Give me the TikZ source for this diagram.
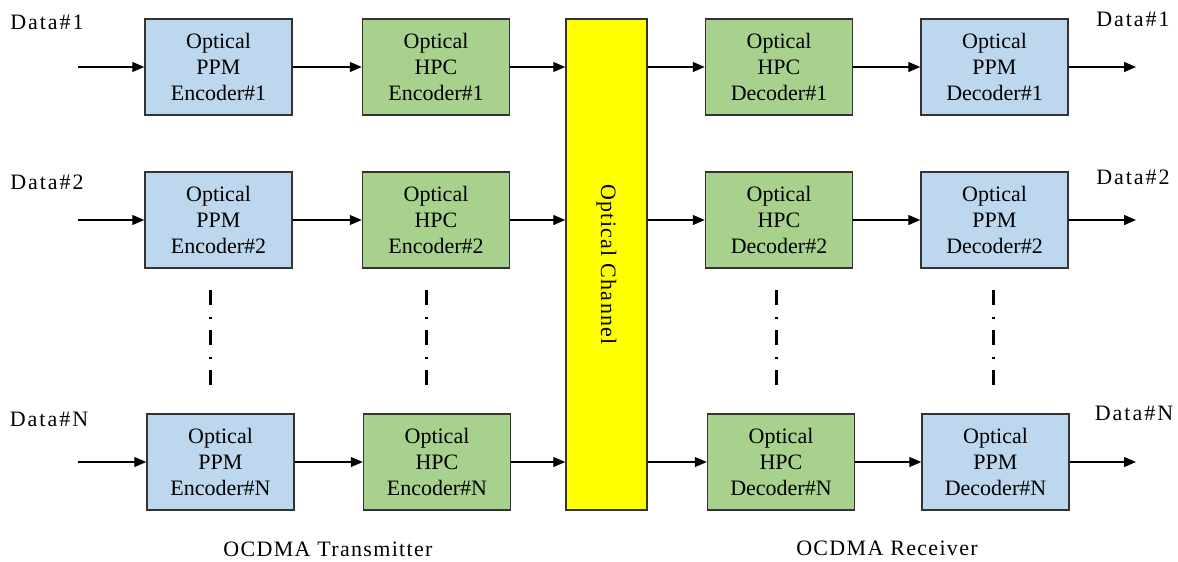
\documentclass[tikz,border=0pt]{standalone}
\usepackage{fontspec}
\setmainfont{Liberation Serif}
\newfontfamily\spaced[LetterSpace=6]{Liberation Serif}
\newfontfamily\spacedd[LetterSpace=9]{Liberation Serif}
\usetikzlibrary{arrows.meta}
\definecolor{ppmblue}{HTML}{BDD7EE}
\definecolor{hpcgreen}{HTML}{A9D18E}
\definecolor{chanyellow}{HTML}{FFFF00}
\definecolor{edge}{HTML}{333333}
\begin{document}
\begin{tikzpicture}[x=1pt,y=-1pt,
  txt/.style={font=\fontsize{22}{26}\selectfont},
  stxt/.style={font=\spaced\fontsize{22}{26}\selectfont},
  dtxt/.style={font=\spacedd\fontsize{22}{26}\selectfont},
  blk/.style={draw=edge, line width=1.5pt, minimum width=147pt, minimum height=96pt, align=center, inner sep=0pt, txt},
  ppm/.style={blk, fill=ppmblue},
  hpc/.style={blk, fill=hpcgreen},
  arr/.style={-{Triangle[length=12pt,width=10pt]}, line width=1.3pt, black},
  vdots/.style={line width=3pt, dash pattern=on 15pt off 12pt on 2pt off 11pt}]
\useasboundingbox (0,0) rectangle (1178,562);
% channel
\node[draw=edge, line width=1.5pt, fill=chanyellow, minimum width=81pt, minimum height=491pt, inner sep=0pt] (chan) at (606.5,264.5) {};
\node[stxt, rotate=-90] (chantxt) at (chan.center) {Optical Channel};
% row 1
\node[ppm] (pe1) at (218.5,67) {Optical\\PPM\\Encoder\#1};
\node[hpc] (he1) at (436,67) {Optical\\HPC\\Encoder\#1};
\node[hpc] (hd1) at (779,67) {Optical\\HPC\\Decoder\#1};
\node[ppm] (pd1) at (994.5,67) {Optical\\PPM\\Decoder\#1};
% row 2
\node[ppm] (pe2) at (218.5,220) {Optical\\PPM\\Encoder\#2};
\node[hpc] (he2) at (436,220) {Optical\\HPC\\Encoder\#2};
\node[hpc] (hd2) at (779,220) {Optical\\HPC\\Decoder\#2};
\node[ppm] (pd2) at (994.5,220) {Optical\\PPM\\Decoder\#2};
% row N
\node[ppm] (peN) at (220.5,462) {Optical\\PPM\\Encoder\#N};
\node[hpc] (heN) at (437,462) {Optical\\HPC\\Encoder\#N};
\node[hpc] (hdN) at (781,462) {Optical\\HPC\\Decoder\#N};
\node[ppm] (pdN) at (995.5,462) {Optical\\PPM\\Decoder\#N};
% data labels
\node[dtxt] (din1) at (47,22) {Data\#1};
\node[dtxt] (din2) at (47,182) {Data\#2};
\node[dtxt] (dinN) at (49,419) {Data\#N};
\node[dtxt] (dout1) at (1133,19) {Data\#1};
\node[dtxt] (dout2) at (1133,177) {Data\#2};
\node[dtxt] (doutN) at (1134,413) {Data\#N};
% free ends
\coordinate (s1) at (78,67);
\coordinate (s2) at (78,220);
\coordinate (sN) at (78,462);
\coordinate (e1) at (1136,67);
\coordinate (e2) at (1136,220);
\coordinate (eN) at (1136,462);
% arrows
\foreach \r in {1,2,N}{
  \draw[arr] (s\r) -- (pe\r.west);
  \draw[arr] (pe\r.east) -- (he\r.west);
  \draw[arr] (he\r.east) -- (he\r.east -| chan.west);
  \draw[arr] (hd\r.west -| chan.east) -- (hd\r.west);
  \draw[arr] (hd\r.east) -- (pd\r.west);
  \draw[arr] (pd\r.east) -- (e\r);
}
% vertical dots
\coordinate (v1a) at (210,290); \coordinate (v1b) at (210,388);
\coordinate (v2a) at (426,290); \coordinate (v2b) at (426,388);
\coordinate (v3a) at (776,290); \coordinate (v3b) at (776,388);
\coordinate (v4a) at (993,290); \coordinate (v4b) at (993,388);
\draw[vdots] (v1a) -- (v1b);
\draw[vdots] (v2a) -- (v2b);
\draw[vdots] (v3a) -- (v3b);
\draw[vdots] (v4a) -- (v4b);
% bottom labels
\node[stxt] (tx) at (328,549) {OCDMA Transmitter};
\node[stxt] (rx) at (887,548) {OCDMA Receiver};
\end{tikzpicture}
\end{document}
